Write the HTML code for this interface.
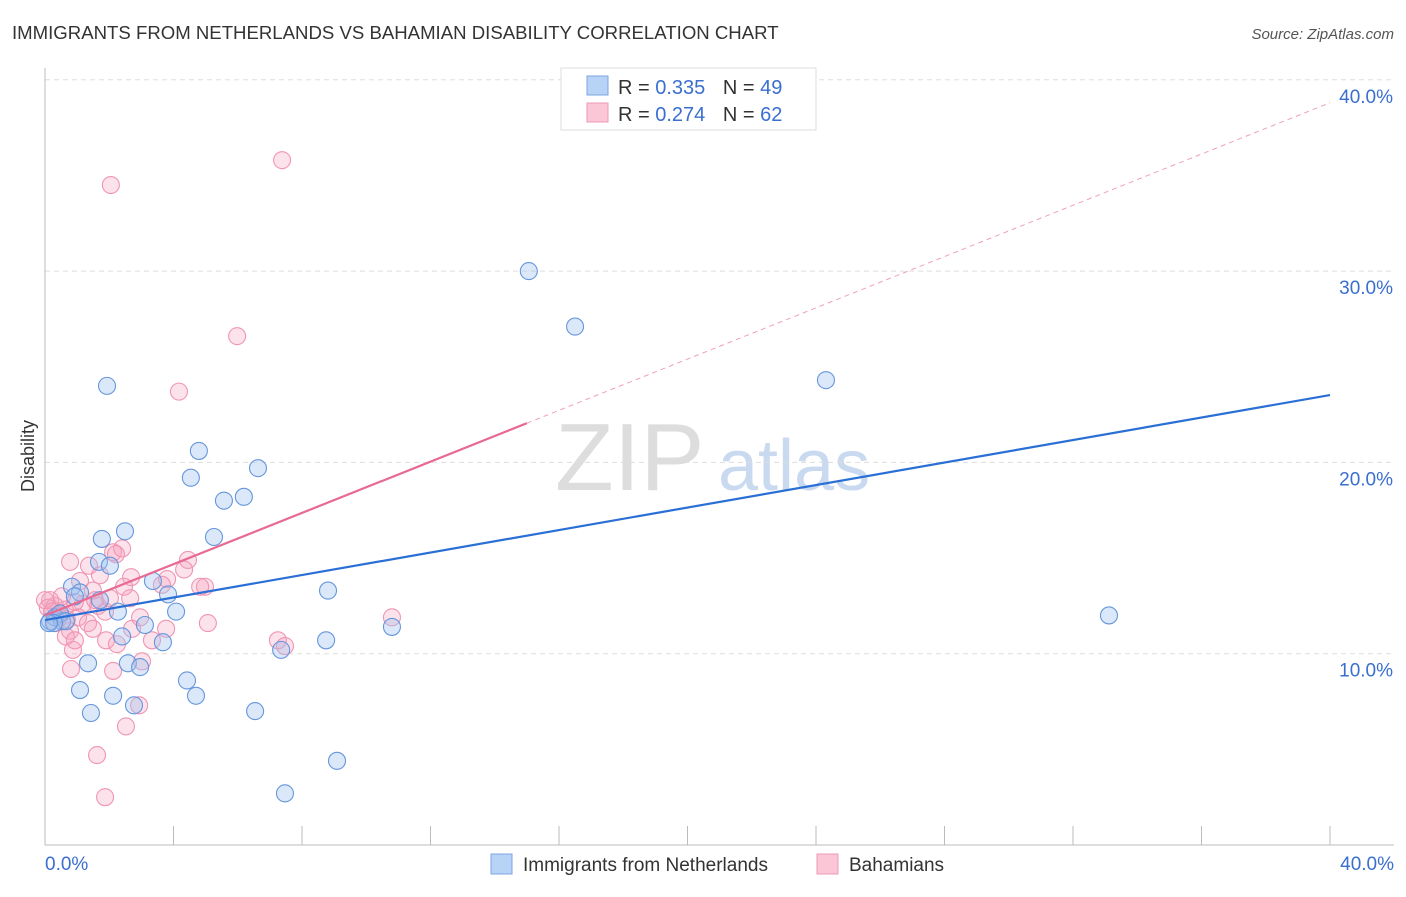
<!DOCTYPE html>
<html><head><meta charset="utf-8"><style>
body{margin:0;background:#fff;font-family:"Liberation Sans",sans-serif;}
svg text{font-family:"Liberation Sans",sans-serif;}
</style></head><body>
<svg id="c" width="1406" height="892" xmlns="http://www.w3.org/2000/svg">
<text x="12" y="39" font-size="18.6" fill="#333">IMMIGRANTS FROM NETHERLANDS VS BAHAMIAN DISABILITY CORRELATION CHART</text>
<text x="1394" y="39" font-size="15" fill="#555" font-style="italic" text-anchor="end">Source: ZipAtlas.com</text>
<text x="34" y="456" font-size="18" fill="#333" transform="rotate(-90 34 456)" text-anchor="middle">Disability</text>
<text x="555" y="490" font-size="96" fill="#ddd" font-family="Liberation Serif">ZIP</text>
<text x="718" y="490" font-size="72" fill="#c9daf0">atlas</text>
<g id="grid"></g><g id="pts"></g><g id="lines"></g>
<g>
<rect x="561" y="68" width="255" height="62" fill="#fff" stroke="#ddd"/>
<rect x="587" y="76" width="21" height="19" fill="#b8d3f5" stroke="#7aa6e0"/>
<rect x="587" y="103" width="21" height="19" fill="#fbc7d6" stroke="#ee9ab5"/>
<text x="618" y="94" font-size="20" fill="#333">R = <tspan fill="#3a6fd0">0.335</tspan>  <tspan dx="12">N = </tspan><tspan fill="#3a6fd0">49</tspan></text>
<text x="618" y="121" font-size="20" fill="#333">R = <tspan fill="#3a6fd0">0.274</tspan>  <tspan dx="12">N = </tspan><tspan fill="#3a6fd0">62</tspan></text>
</g>
<g>
<rect x="491" y="854" width="21" height="20" fill="#b8d3f5" stroke="#7aa6e0"/>
<text x="523" y="871" font-size="19" fill="#333">Immigrants from Netherlands</text>
<rect x="817" y="854" width="21" height="20" fill="#fbc7d6" stroke="#ee9ab5"/>
<text x="849" y="871" font-size="19" fill="#333">Bahamians</text>
</g>
</svg>
<script>
const yTicks=[10,20,30,40];
const yTickLabels=["10.0%","20.0%","30.0%","40.0%"];
const xTickLabels=["0.0%","40.0%"];
const blueX=[0.16,0.31,0.53,1.93,4.79,4.54,6.63,6.19,5.57,5.26,2.49,1.77,1.68,2.02,0.84,1.09,3.36,3.83,2.27,4.08,2.40,3.67,2.58,2.96,1.34,1.09,2.12,1.43,2.77,4.42,4.70,6.54,7.35,8.75,8.81,10.80,9.09,7.47,15.06,16.50,24.31,33.12,0.47,0.65,3.11,1.71,0.93,0.28,0.12];
const blueY=[11.7,11.9,11.7,24.0,20.6,19.2,19.7,18.2,18.0,16.1,16.4,16.0,14.8,14.6,13.5,13.2,13.8,13.1,12.2,12.2,10.9,10.6,9.5,9.3,9.5,8.1,7.8,6.9,7.3,8.6,7.8,7.0,10.2,10.7,13.3,11.4,4.4,2.7,30.0,27.1,24.3,12.0,12.1,11.7,11.5,12.8,13.0,11.6,11.6];
const pinkX=[2.05,7.38,5.98,4.17,0.78,1.37,1.71,2.12,2.40,2.21,2.68,4.45,4.33,3.80,3.64,2.46,1.49,1.65,1.18,0.93,0.62,0.31,0.16,0.09,0.22,0.47,0.68,1.03,1.34,1.49,0.78,0.65,0.93,1.90,2.24,2.71,3.33,3.77,5.07,4.98,4.83,0.87,0.81,2.12,3.02,2.93,2.52,1.62,1.87,7.25,7.47,10.80,0.40,0.53,0.0,1.56,2.02,1.09,2.96,1.87,2.65,0.31];
const pinkY=[34.5,35.8,26.6,23.7,14.8,14.6,14.1,15.3,15.5,15.2,14.0,14.9,14.4,13.9,13.6,13.5,13.3,12.5,12.6,12.7,12.3,12.5,12.8,12.4,12.2,12.0,11.8,11.9,11.6,11.3,11.2,10.9,10.7,10.7,10.5,11.3,10.7,11.3,11.6,13.5,13.5,10.2,9.2,9.1,9.6,7.3,6.2,4.7,2.5,10.7,10.4,11.9,12.0,13.0,12.8,12.8,12.9,13.8,11.9,12.2,12.9,11.6];
const blueLine=[11.76,23.52];
const pinkLine=[12.0,0.67];
const X=v=>45+v*32.125, Y=v=>845-v*19.13;
const NS="http://www.w3.org/2000/svg";
function mk(t,a,p){const e=document.createElementNS(NS,t);for(const k in a)e.setAttribute(k,a[k]);p.appendChild(e);return e;}
const g=document.getElementById('grid'),svg=document.getElementById('c');
yTicks.forEach((t,i)=>{
 const l=mk('line',{x1:45,x2:1394,y1:Y(t),y2:Y(t),stroke:'#ddd','stroke-dasharray':'5,4'},g);
 
 
 const tx=mk('text',{x:1393,y:Y(t)+23,'font-size':19,fill:'#3a6fd0','text-anchor':'end'},g);tx.textContent=yTickLabels[i];
 
 
});
const ax=mk('line',{x1:45,x2:45,y1:68,y2:845,stroke:'#bbb'},g);


const bx=mk('line',{x1:45,x2:1394,y1:845,y2:845,stroke:'#bbb'},g);


for(let i=1;i<=10;i++){const t=mk('line',{x1:X(i*4),x2:X(i*4),y1:826,y2:845,stroke:'#bbb'},g);
 
 }
[[0,'start',45],[40,'end',1394]].forEach((d,i)=>{const t=mk('text',{x:d[2],y:870,'font-size':19,fill:'#3a6fd0','text-anchor':d[1]},g);t.textContent=xTickLabels[i];
 
 });
const p=document.getElementById('pts');
pinkX.forEach((x,i)=>{const c=mk('circle',{cx:X(x),cy:Y(pinkY[i]),r:8.5,fill:'rgba(246,160,188,0.3)',stroke:'#f095b3','stroke-width':1.1},p);
 
 });
blueX.forEach((x,i)=>{const c=mk('circle',{cx:X(x),cy:Y(blueY[i]),r:8.5,fill:'rgba(160,195,240,0.38)',stroke:'#6696dc','stroke-width':1.1},p);
 
 });
const L=document.getElementById('lines');
const b=mk('line',{x1:X(0),y1:Y(blueLine[0]),x2:X(40),y2:Y(blueLine[1]),stroke:'#2a6fd6','stroke-width':2.2},L);


const pe=15;
const ps=mk('line',{x1:X(0),y1:Y(pinkLine[0]),x2:X(pe),y2:Y(pinkLine[0]+pinkLine[1]*pe),stroke:'#e86a93','stroke-width':2.2},L);


const pd=mk('line',{x1:X(pe),y1:Y(pinkLine[0]+pinkLine[1]*pe),x2:X(40),y2:Y(pinkLine[0]+pinkLine[1]*40),stroke:'#f0a0b8','stroke-width':1,'stroke-dasharray':'5,4'},L);


</script>
</body></html>
